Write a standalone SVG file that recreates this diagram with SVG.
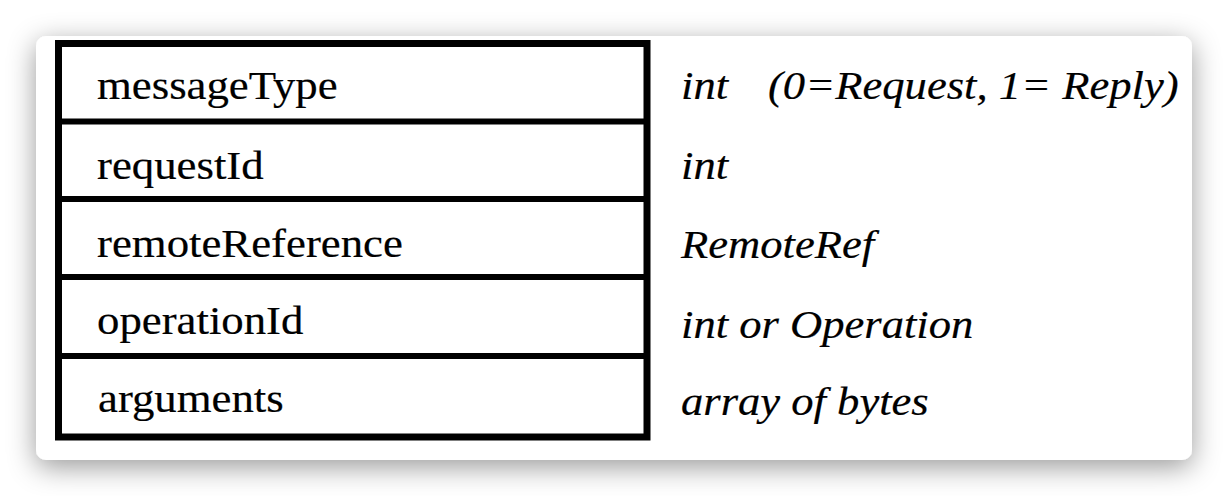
<svg xmlns="http://www.w3.org/2000/svg" width="1228" height="496" viewBox="0 0 1228 496">
  <defs>
    <filter id="cardShadow" x="-10%" y="-25%" width="120%" height="155%">
      <feDropShadow dx="0" dy="7" stdDeviation="14" flood-color="#000" flood-opacity="0.4"/>
    </filter>
    <style>
      .frame { fill: none; stroke: #000; stroke-width: 7; }
      .divider { stroke: #000; stroke-width: 6; }
    </style>
  </defs>

  <rect width="1228" height="496" fill="#fff"/>

  <!-- card -->
  <rect x="36" y="36" width="1156" height="424" rx="10" ry="10" fill="#fff" filter="url(#cardShadow)"/>

  <!-- message table frame -->
  <rect class="frame" x="58.5" y="43.5" width="588.5" height="393.5"/>

  <g id="connectors">
    <line class="divider" x1="58" y1="121.5" x2="644" y2="121.5"/>
    <line class="divider" x1="58" y1="199" x2="644" y2="199"/>
    <line class="divider" x1="58" y1="277" x2="644" y2="277"/>
    <line class="divider" x1="58" y1="356" x2="644" y2="356"/>
  </g>

  <!-- field names (upright) and types (italic), slightly widened -->
  <g font-family="Liberation Serif, Times New Roman, serif" font-size="40" fill="#000" stroke="#000" stroke-width="0.2">
    <g id="row-messageType">
      <text transform="matrix(1.12 0 0 1 97 99)">messageType</text>
      <text transform="matrix(1.115 0 0 1 681 99)" font-style="italic">int</text>
      <text transform="matrix(1.115 0 0 1 768 99)" font-style="italic">(0=Request, 1= Reply)</text>
    </g>

    <g id="row-requestId">
      <text transform="matrix(1.12 0 0 1 97 179)">requestId</text>
      <text transform="matrix(1.115 0 0 1 681 179)" font-style="italic">int</text>
    </g>

    <g id="row-remoteReference">
      <text transform="matrix(1.12 0 0 1 97 257)">remoteReference</text>
      <text transform="matrix(1.115 0 0 1 681 258)" font-style="italic">RemoteRef</text>
    </g>

    <g id="row-operationId">
      <text transform="matrix(1.12 0 0 1 97 334)">operationId</text>
      <text transform="matrix(1.115 0 0 1 681 338)" font-style="italic">int or Operation</text>
    </g>

    <g id="row-arguments">
      <text transform="matrix(1.12 0 0 1 98 412)">arguments</text>
      <text transform="matrix(1.115 0 0 1 681 415)" font-style="italic">array of bytes</text>
    </g>
  </g>
</svg>
